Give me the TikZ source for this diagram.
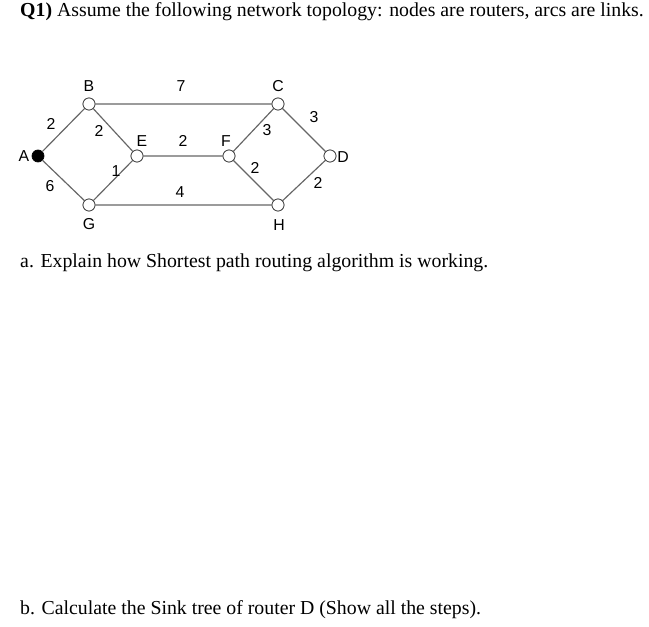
\documentclass[tikz,border=0pt]{standalone}
\usepackage{fontspec}
\setmainfont{Liberation Serif}
\newfontfamily\arial{Liberation Sans}
\begin{document}
\begin{tikzpicture}[x=0.03cm,y=-0.03cm,
  router/.style={circle,draw=black!75,fill=white,inner sep=0pt,minimum size=0.36cm,line width=0.6pt},
  link/.style={draw=black!60,line width=1pt},
  lbl/.style={font=\arial\fontsize{13.5}{15}\selectfont,inner sep=0pt},
  txt/.style={anchor=west,inner sep=0pt,font=\fontsize{16.9}{19}\selectfont}]
\useasboundingbox (0,0) rectangle (649,627);
\node[txt] (t1) at (20,12) {\textbf{Q1)} Assume the following network topology: nodes are routers, arcs are links.};
\node[txt] (ta) at (20,263) {a. Explain how Shortest path routing algorithm is working.};
\node[txt] (tb) at (20,610) {b. Calculate the Sink tree of router D (Show all the steps).};
\node[router] (B) at (89,104) {};
\node[router] (C) at (278,104) {};
\node[router] (E) at (137,156) {};
\node[router] (F) at (229,156) {};
\node[router] (D) at (330,156) {};
\node[router] (G) at (89,205) {};
\node[router] (H) at (278,205) {};
\node[router,fill=black,draw=black] (A) at (38,156) {};
\draw[link] (A)--(B) (A)--(G) (B)--(C) (B)--(E) (E)--(G) (E)--(F) (F)--(C) (F)--(H) (C)--(D) (H)--(D) (G)--(H);
\node[router] at (B) {};\node[router] at (C) {};\node[router] at (E) {};\node[router] at (F) {};
\node[router] at (D) {};\node[router] at (G) {};\node[router] at (H) {};
\node[lbl] (lB) at (89,86) {B};
\node[lbl] (lC) at (278,86) {C};
\node[lbl] (lE) at (142,141) {E};
\node[lbl] (lF) at (226,141) {F};
\node[lbl] (lA) at (24,156) {A};
\node[lbl] (lD) at (343,157) {D};
\node[lbl] (lG) at (89,224) {G};
\node[lbl] (lH) at (279,225) {H};
\node[lbl] at (51,124) {2};
\node[lbl] at (99,131) {2};
\node[lbl] at (181,86) {7};
\node[lbl] at (183,141) {2};
\node[lbl] at (267,130) {3};
\node[lbl] at (314,117) {3};
\node[lbl] at (116,171) {1};
\node[lbl] at (255,168) {2};
\node[lbl] at (50,186) {6};
\node[lbl] at (180,192) {4};
\node[lbl] at (318,183) {2};
\end{tikzpicture}
\end{document}
